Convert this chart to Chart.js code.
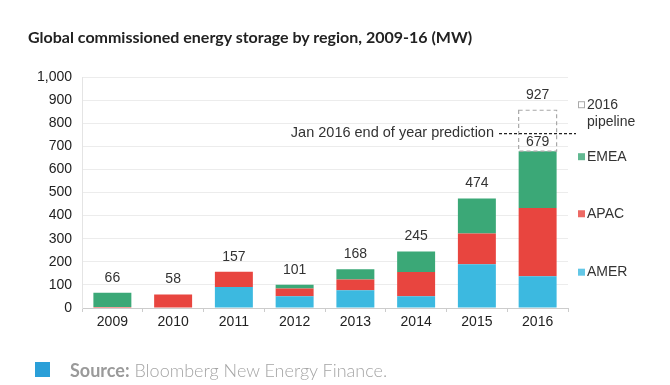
<!DOCTYPE html>
<html>
<head>
<meta charset="utf-8">
<script src="https://cdn.jsdelivr.net/npm/chart.js@4/dist/chart.umd.min.js"></script>
<style>
  html, body { margin: 0; padding: 0; background: #fff; }
  #wrap { position: relative; width: 670px; height: 385px; overflow: hidden; }
  #myChart { position: absolute; left: 0; top: 0; }
  .title { position: absolute; left: 28px; top: 27px; font: bold 16px Lato, sans-serif; color: #222; white-space: nowrap; }
  .src { position: absolute; left: 70px; top: 359px; font: 300 18px Lato, sans-serif; color: #a5a5a5; white-space: nowrap; }
  .src b { font-weight: bold; color: #9a9a9a; }
  .srcBox { position: absolute; left: 35px; top: 362px; width: 15px; height: 15px; background: #2a9fd8; }
</style>
</head>
<body>
<div id="wrap">
  <canvas id="myChart" width="670" height="385"></canvas>
  <div class="title">Global commissioned energy storage by region, 2009-16 (MW)</div>
  <div class="srcBox"></div>
  <div class="src"><b>Source:</b> Bloomberg New Energy Finance.</div>
</div>
<script>
// данные
const years = ['2009', '2010', '2011', '2012', '2013', '2014', '2015', '2016'];
const amer = [2, 2, 91, 51, 77, 51, 189, 137];
const apac = [2, 56, 66, 33, 46, 105, 133, 296];
const emea = [62, 0, 0, 17, 45, 89, 152, 246];
const totals = ['66', '58', '157', '101', '168', '245', '474', '679'];
const pipeline = [null, null, null, null, null, null, null, 177];
const pipelineLabel = '927';
const prediction = 755;
const predictionText = 'Jan 2016 end of year prediction';

const yTicks = [0, 100, 200, 300, 400, 500, 600, 700, 800, 900, 1000];

const cAmer = '#3cb9e0';
const cApac = '#e8453f';
const cEmea = '#3ba877';

var ctx = document.getElementById('myChart').getContext('2d');

// подписи, пунктир, легенда
const extras = {
  id: 'extras',
  afterDatasetsDraw(chart) {
    const c = chart.ctx;
    const y = chart.scales.y;
    const topMeta = chart.getDatasetMeta(2);
    const pipeMeta = chart.getDatasetMeta(3);
    c.save();
    c.font = '14px "Liberation Sans", Arial, sans-serif';
    c.fillStyle = '#333';
    c.textAlign = 'center';
    c.textBaseline = 'middle';
    topMeta.data.forEach((bar, i) => {
      let off = (i === years.length - 1) ? 9 : 15;
      c.fillText(totals[i], bar.x, bar.y - off);
    });

    // пунктирная коробка pipeline
    const pb = pipeMeta.data[years.length - 1];
    const half = pb.width / 2;
    c.strokeStyle = '#a8a8a8';
    c.lineWidth = 1.2;
    c.setLineDash([4, 3]);
    c.strokeRect(pb.x - half, pb.y, pb.width, pb.base - pb.y);
    c.fillStyle = '#333';
    c.fillText(pipelineLabel, pb.x, pb.y - 15);

    // линия прогноза
    const py = y.getPixelForValue(prediction);
    c.strokeStyle = '#222';
    c.lineWidth = 1.4;
    c.setLineDash([3, 2]);
    c.beginPath();
    c.moveTo(499, py);
    c.lineTo(576, py);
    c.stroke();
    c.setLineDash([]);
    c.textAlign = 'right';
    c.font = '14.5px "Liberation Sans", Arial, sans-serif';
    c.fillText(predictionText, 494, py - 1);
    c.font = '14px "Liberation Sans", Arial, sans-serif';

    // легенда
    const items = [
      { lab: ['2016', 'pipeline'], col: null, v: 880 },
      { lab: ['EMEA'], col: cEmea, v: 655 },
      { lab: ['APAC'], col: cApac, v: 408 },
      { lab: ['AMER'], col: cAmer, v: 155 }
    ];
    c.textAlign = 'left';
    items.forEach((it) => {
      let ly = y.getPixelForValue(it.v);
      if (it.col) {
        c.fillStyle = it.col;
        c.globalAlpha = 0.8;
        c.fillRect(578, ly - 3.5, 7, 7);
        c.globalAlpha = 1;
      } else {
        c.strokeStyle = '#aaa';
        c.lineWidth = 1;
        c.strokeRect(578.5, ly - 3, 6, 6);
      }
      c.fillStyle = '#333';
      it.lab.forEach((t, k) => {
        c.fillText(t, 587, ly + k * 17);
      });
    });
    c.restore();
  }
};

myChart = new Chart(ctx, {
  type: 'bar',
  data: {
    labels: years,
    datasets: [
      { label: 'AMER', data: amer, backgroundColor: cAmer },
      { label: 'APAC', data: apac, backgroundColor: cApac },
      { label: 'EMEA', data: emea, backgroundColor: cEmea },
      { label: '2016 pipeline', data: pipeline, backgroundColor: 'rgba(0,0,0,0)' }
    ]
  },
  options: {
    responsive: false,
    animation: false,
    layout: { padding: { left: 0, right: 102, top: 77, bottom: 57 } },
    datasets: { bar: { barPercentage: 0.625, categoryPercentage: 1 } },
    plugins: { legend: { display: false }, tooltip: { enabled: false } },
    scales: {
      x: {
        stacked: true,
        afterFit: (s) => { s.height = 20; },
        grid: { offset: true, drawOnChartArea: false, drawTicks: true, tickLength: 4, color: '#ccc' },
        border: { color: '#ccc' },
        ticks: { color: '#222', padding: 2, font: { family: '"Liberation Sans", Arial, sans-serif', size: 14 } }
      },
      y: {
        stacked: true,
        min: 0,
        max: 1000,
        afterFit: (s) => { s.width = 82; },
        afterBuildTicks: (s) => { s.ticks = yTicks.map(v => ({ value: v })); },
        grid: { color: '#ececec', drawTicks: false },
        border: { color: '#e4e4e4' },
        ticks: {
          color: '#222',
          padding: 10,
          font: { family: '"Liberation Sans", Arial, sans-serif', size: 14 },
          callback: (v) => v.toLocaleString('en-US')
        }
      }
    }
  },
  plugins: [extras]
});
</script>
</body>
</html>
